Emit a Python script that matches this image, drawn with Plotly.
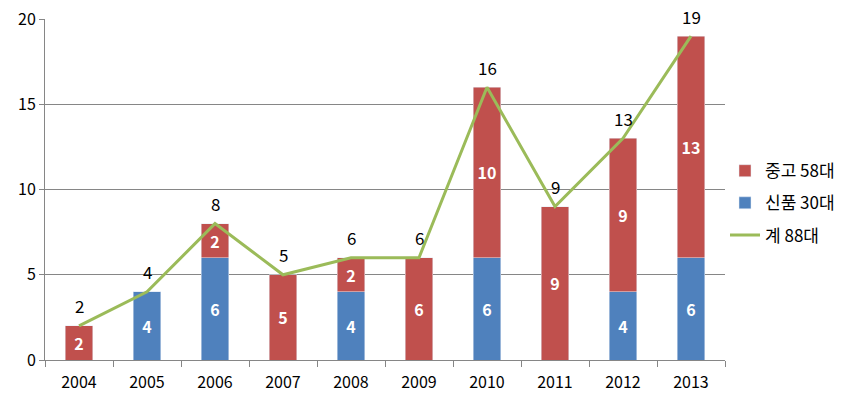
import plotly.graph_objects as go

years = ["2004", "2005", "2006", "2007", "2008", "2009", "2010", "2011", "2012", "2013"]
new_cars = [0, 4, 6, 0, 4, 0, 6, 0, 4, 6]       # 신품 30대
used_cars = [2, 0, 2, 5, 2, 6, 10, 9, 9, 13]    # 중고 58대
totals = [2, 4, 8, 5, 6, 6, 16, 9, 13, 19]      # 계 88대

font_fam = "Noto Sans CJK KR"

def lbl(vals):
    return [str(v) if v else "" for v in vals]

fig = go.Figure()
fig.add_trace(go.Bar(
    x=years, y=new_cars, name="신품 30대", marker_color="#4F81BD",
    text=lbl(new_cars), textposition="inside", insidetextanchor="middle",
    textfont=dict(color="white", size=16, family=font_fam), texttemplate="<b>%{text}</b>",
    legendrank=2, legendgroup="new",
))
fig.add_trace(go.Bar(
    x=years, y=used_cars, name="중고 58대", marker_color="#C0504D",
    text=lbl(used_cars), textposition="inside", insidetextanchor="middle",
    textfont=dict(color="white", size=16, family=font_fam), texttemplate="<b>%{text}</b>",
    legendrank=1, legendgroup="used",
))
fig.add_trace(go.Scatter(
    x=years, y=totals, name="계 88대", mode="lines",
    line=dict(color="#9BBB59", width=3),
    legendrank=3, legendgroup="total",
))

# total labels above the line points (x as category index)
for i, t in enumerate(totals):
    fig.add_annotation(x=i, y=t, text=str(t), showarrow=False, yshift=20,
                       font=dict(size=17, color="black", family=font_fam))

fig.update_layout(
    width=865, height=404,
    margin=dict(l=37, r=148, t=11, b=52),
    barmode="stack", bargap=0.6,
    plot_bgcolor="white", paper_bgcolor="white",
    font=dict(family=font_fam, size=16, color="black"),
    legend=dict(x=1.0, xanchor="left", y=0.46, yanchor="middle", traceorder="grouped",
                font=dict(size=17), itemwidth=30, tracegroupgap=7),
    showlegend=True,
)
fig.update_xaxes(
    type="category", range=[-0.5, len(years) - 0.5],
    showline=True, linecolor="#868686", linewidth=1, automargin=False,
    ticks="outside", tickson="boundaries", ticklen=6, tickcolor="#868686",
    showgrid=False, tickfont=dict(size=16), ticklabelstandoff=8,
)
fig.update_yaxes(
    range=[0, 20], dtick=5, showgrid=True, gridcolor="#868686", gridwidth=1,
    showline=True, linecolor="#868686", ticks="outside", ticklen=5, tickcolor="#868686",
    zeroline=False, tickfont=dict(size=16), automargin=False, ticklabeloverflow="allow",
)

fig.write_html("out.html")
